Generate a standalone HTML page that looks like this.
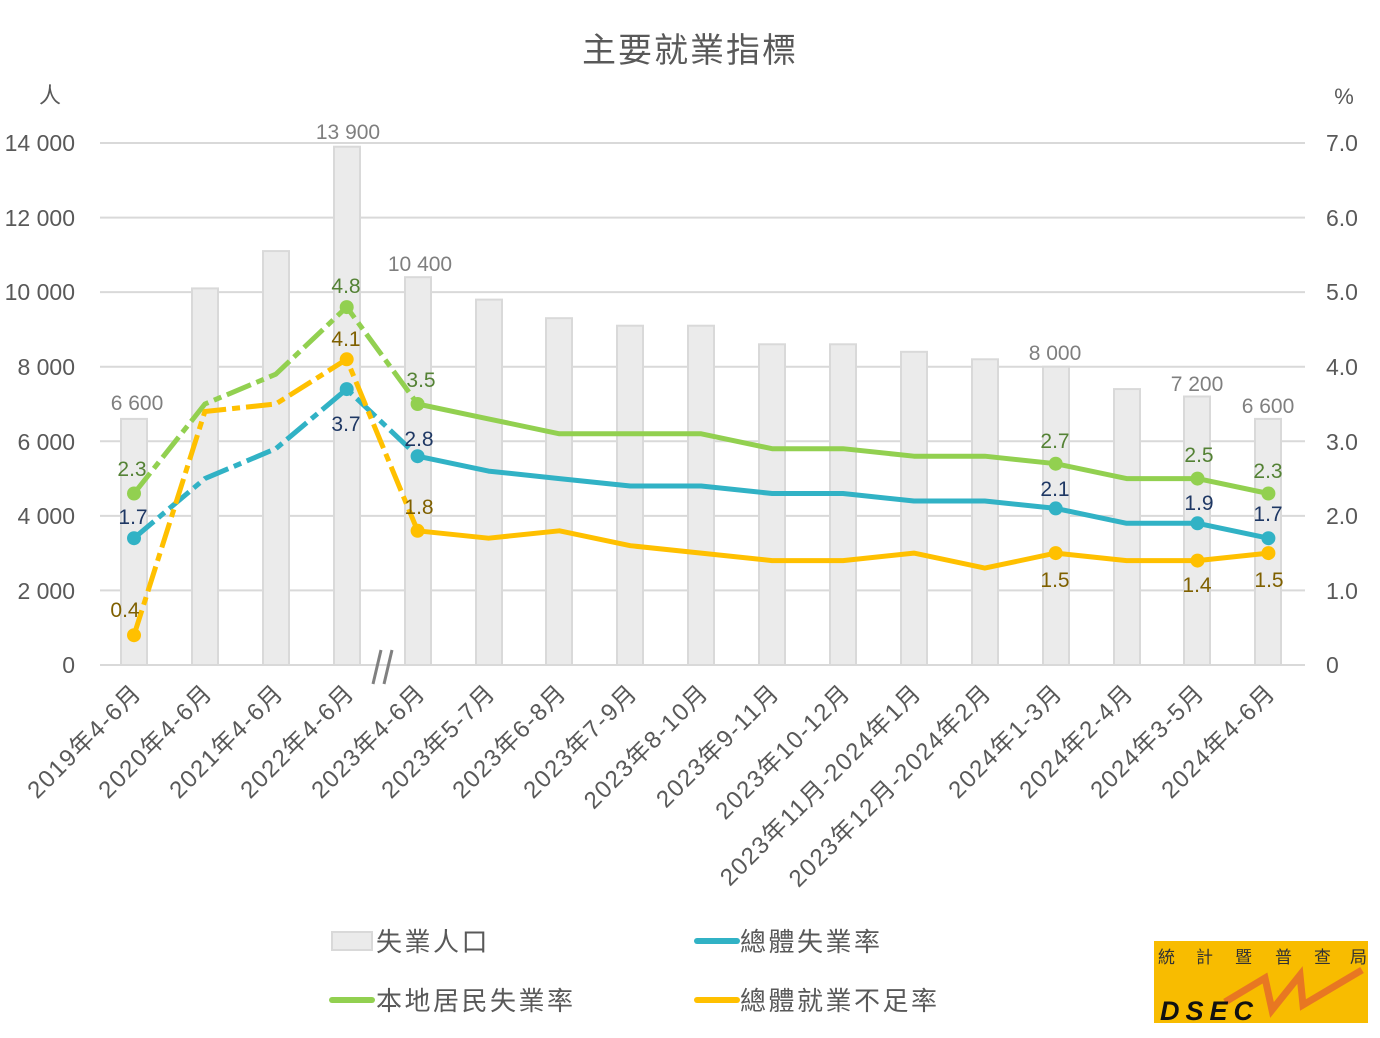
<!DOCTYPE html>
<html><head><meta charset="utf-8"><style>
body{margin:0;background:#fff;}
svg text{font-family:"Liberation Sans","Noto Sans CJK TC",sans-serif;}
</style></head><body>
<svg width="1380" height="1033" xmlns="http://www.w3.org/2000/svg">
<rect width="1380" height="1033" fill="#fff"/>
<text x="690" y="62" font-size="34" fill="#595959" text-anchor="middle" letter-spacing="2">主要就業指標</text>
<text x="50" y="103" font-size="22" fill="#595959" text-anchor="middle">人</text>
<text x="1344" y="104" font-size="22" fill="#595959" text-anchor="middle">%</text>
<g stroke="#d9d9d9" stroke-width="2">
<line x1="100" x2="1305" y1="143" y2="143"/><line x1="100" x2="1305" y1="217.6" y2="217.6"/>
<line x1="100" x2="1305" y1="292.1" y2="292.1"/><line x1="100" x2="1305" y1="366.7" y2="366.7"/>
<line x1="100" x2="1305" y1="441.3" y2="441.3"/><line x1="100" x2="1305" y1="515.9" y2="515.9"/>
<line x1="100" x2="1305" y1="590.4" y2="590.4"/><line x1="100" x2="1305" y1="665" y2="665"/>
</g>
<g font-size="23" fill="#595959" text-anchor="end">
<text x="75" y="151">14 000</text><text x="75" y="226">12 000</text><text x="75" y="300">10 000</text>
<text x="75" y="375">8 000</text><text x="75" y="450">6 000</text><text x="75" y="524">4 000</text>
<text x="75" y="599">2 000</text><text x="75" y="673">0</text>
</g>
<g font-size="23" fill="#595959" text-anchor="start">
<text x="1326" y="151">7.0</text><text x="1326" y="226">6.0</text><text x="1326" y="300">5.0</text>
<text x="1326" y="375">4.0</text><text x="1326" y="450">3.0</text><text x="1326" y="524">2.0</text>
<text x="1326" y="599">1.0</text><text x="1326" y="673">0</text>
</g>
<g fill="#ebebeb" stroke="#d9d9d9" stroke-width="2">
<rect x="121" y="418.9" width="26" height="246.1"/>
<rect x="192" y="288.4" width="26" height="376.6"/>
<rect x="263" y="251.1" width="26" height="413.9"/>
<rect x="334" y="146.7" width="26" height="518.3"/>
<rect x="405" y="277.2" width="26" height="387.8"/>
<rect x="476" y="299.6" width="26" height="365.4"/>
<rect x="546" y="318.2" width="26" height="346.8"/>
<rect x="617" y="325.7" width="26" height="339.3"/>
<rect x="688" y="325.7" width="26" height="339.3"/>
<rect x="759" y="344.3" width="26" height="320.7"/>
<rect x="830" y="344.3" width="26" height="320.7"/>
<rect x="901" y="351.8" width="26" height="313.2"/>
<rect x="972" y="359.3" width="26" height="305.7"/>
<rect x="1043" y="366.7" width="26" height="298.3"/>
<rect x="1114" y="389.1" width="26" height="275.9"/>
<rect x="1184" y="396.5" width="26" height="268.5"/>
<rect x="1255" y="418.9" width="26" height="246.1"/>
</g>
<g font-size="21" fill="#7f7f7f" text-anchor="middle">
<text x="137" y="410">6 600</text><text x="348" y="139">13 900</text><text x="420" y="271">10 400</text>
<text x="1055" y="360">8 000</text><text x="1197" y="391">7 200</text><text x="1268" y="413">6 600</text>
</g>
<g stroke="#808080" stroke-width="3"><line x1="373" y1="684" x2="381" y2="650"/><line x1="384" y1="684" x2="392" y2="650"/></g>
<g fill="none" stroke-width="5" stroke-linejoin="round">
<polyline stroke="#92d050" stroke-dasharray="26 6 8 6" points="134,493.5 204.9,404 275.8,374.2 346.7,307.1 417.6,404"/>
<polyline stroke="#92d050" points="417.6,404 488.5,418.9 559.4,433.8 630.3,433.8 701.2,433.8 772.1,448.7 843,448.7 913.9,456.2 984.8,456.2 1055.7,463.7 1126.6,478.6 1197.5,478.6 1268.4,493.5"/>
<polyline stroke="#31b2c5" stroke-dasharray="26 6 8 6" points="134,538.2 204.9,478.6 275.8,448.7 346.7,389.1 417.6,456.2"/>
<polyline stroke="#31b2c5" points="417.6,456.2 488.5,471.1 559.4,478.6 630.3,486 701.2,486 772.1,493.5 843,493.5 913.9,501 984.8,501 1055.7,508.4 1126.6,523.3 1197.5,523.3 1268.4,538.2"/>
<polyline stroke="#ffc000" stroke-dasharray="26 6 8 6" points="134,635.2 204.9,411.5 275.8,404 346.7,359.3 417.6,530.8"/>
<polyline stroke="#ffc000" points="417.6,530.8 488.5,538.2 559.4,530.8 630.3,545.7 701.2,553.1 772.1,560.6 843,560.6 913.9,553.1 984.8,568.1 1055.7,553.1 1126.6,560.6 1197.5,560.6 1268.4,553.1"/>
</g>
<g fill="#92d050"><circle cx="134" cy="493.5" r="7"/><circle cx="346.7" cy="307.1" r="7"/><circle cx="417.6" cy="404" r="7"/><circle cx="1055.7" cy="463.7" r="7"/><circle cx="1197.5" cy="478.6" r="7"/><circle cx="1268.4" cy="493.5" r="7"/></g>
<g fill="#31b2c5"><circle cx="134" cy="538.2" r="7"/><circle cx="346.7" cy="389.1" r="7"/><circle cx="417.6" cy="456.2" r="7"/><circle cx="1055.7" cy="508.4" r="7"/><circle cx="1197.5" cy="523.3" r="7"/><circle cx="1268.4" cy="538.2" r="7"/></g>
<g fill="#ffc000"><circle cx="134" cy="635.2" r="7"/><circle cx="346.7" cy="359.3" r="7"/><circle cx="417.6" cy="530.8" r="7"/><circle cx="1055.7" cy="553.1" r="7"/><circle cx="1197.5" cy="560.6" r="7"/><circle cx="1268.4" cy="553.1" r="7"/></g>
<g font-size="21" text-anchor="middle">
<g fill="#548235"><text x="132" y="476">2.3</text><text x="346" y="293">4.8</text><text x="421" y="387">3.5</text><text x="1055" y="448">2.7</text><text x="1199" y="462">2.5</text><text x="1268" y="478">2.3</text></g>
<g fill="#1f3864"><text x="133" y="524">1.7</text><text x="346" y="431">3.7</text><text x="419" y="446">2.8</text><text x="1055" y="496">2.1</text><text x="1199" y="510">1.9</text><text x="1268" y="521">1.7</text></g>
<g fill="#7f6000"><text x="125" y="617">0.4</text><text x="346" y="346">4.1</text><text x="419" y="514">1.8</text><text x="1055" y="587">1.5</text><text x="1197" y="592">1.4</text><text x="1269" y="587">1.5</text></g>
</g>
<g font-size="24" fill="#595959" text-anchor="end" letter-spacing="1.5">
<text transform="translate(143,694) rotate(-45)">2019年4-6月</text>
<text transform="translate(214,694) rotate(-45)">2020年4-6月</text>
<text transform="translate(285,694) rotate(-45)">2021年4-6月</text>
<text transform="translate(356,694) rotate(-45)">2022年4-6月</text>
<text transform="translate(427,694) rotate(-45)">2023年4-6月</text>
<text transform="translate(497,694) rotate(-45)">2023年5-7月</text>
<text transform="translate(568,694) rotate(-45)">2023年6-8月</text>
<text transform="translate(639,694) rotate(-45)">2023年7-9月</text>
<text transform="translate(710,694) rotate(-45)">2023年8-10月</text>
<text transform="translate(781,694) rotate(-45)">2023年9-11月</text>
<text transform="translate(852,694) rotate(-45)">2023年10-12月</text>
<text transform="translate(923,694) rotate(-45)">2023年11月-2024年1月</text>
<text transform="translate(993,694) rotate(-45)">2023年12月-2024年2月</text>
<text transform="translate(1064,694) rotate(-45)">2024年1-3月</text>
<text transform="translate(1135,694) rotate(-45)">2024年2-4月</text>
<text transform="translate(1206,694) rotate(-45)">2024年3-5月</text>
<text transform="translate(1277,694) rotate(-45)">2024年4-6月</text>
</g>
<rect x="332" y="932" width="40" height="18" fill="#ebebeb" stroke="#d9d9d9" stroke-width="2"/>
<g font-size="26" fill="#595959" letter-spacing="2.5">
<text x="376" y="951">失業人口</text>
<text x="740" y="951">總體失業率</text>
<text x="376" y="1010">本地居民失業率</text>
<text x="740" y="1010">總體就業不足率</text>
</g>
<line x1="697" y1="941" x2="737" y2="941" stroke="#31b2c5" stroke-width="6" stroke-linecap="round"/>
<line x1="332" y1="1000" x2="372" y2="1000" stroke="#92d050" stroke-width="6" stroke-linecap="round"/>
<line x1="697" y1="1000" x2="737" y2="1000" stroke="#ffc000" stroke-width="6" stroke-linecap="round"/>
<rect x="1154" y="941" width="214" height="82" fill="#f8bc00"/>
<g font-size="17" fill="#333">
<text x="1158" y="963">統</text><text x="1196" y="963">計</text><text x="1235" y="963">暨</text><text x="1275" y="963">普</text><text x="1314" y="963">查</text><text x="1350" y="963">局</text>
</g>
<polyline points="1225,1002 1265,978 1272,1010 1300,975 1303,1005 1362,970" fill="none" stroke="#e87722" stroke-width="7"/>
<text x="1160" y="1020" font-size="27" font-weight="bold" font-style="italic" fill="#111" letter-spacing="6">DSEC</text>
</svg>
</body></html>
